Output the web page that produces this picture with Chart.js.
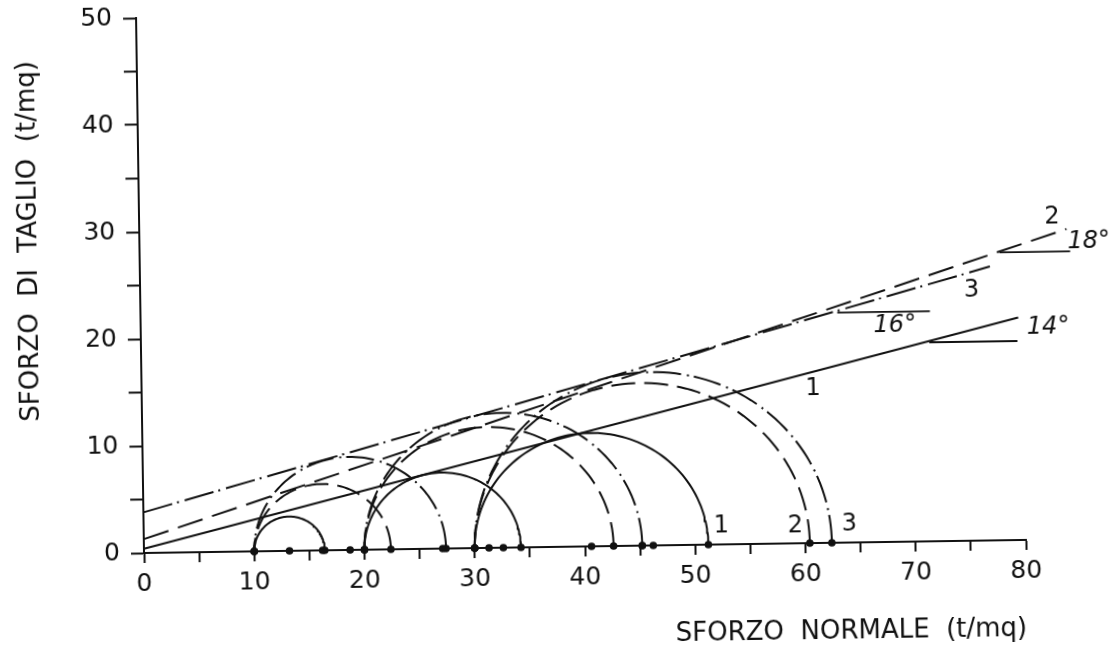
<!DOCTYPE html>
<html>
<head>
<meta charset="utf-8">
<script src="https://cdn.jsdelivr.net/npm/chart.js@4.4.1/dist/chart.umd.min.js"></script>
<style>
html, body { margin: 0; padding: 0; background: #ffffff; overflow: hidden; }
#wrap { width: 1115px; height: 655px; position: relative; }
#c { display: block; transform-origin: 144px 553px; transform: rotate(-0.85deg); }
</style>
</head>
<body>
<div id="wrap"><canvas id="c" width="1115" height="655"></canvas></div>
<script>
// ---- data (t/mq) ----
const sigma3 = [10, 20, 30];                 // minor principal stress of each test
const sigma1Test1 = [16.4, 34.2, 51.2];      // major principal stress, series 1 (solid)
const sigma1Test2 = [22.4, 42.6, 60.4];      // series 2 (dashed)
const sigma1Test3 = [27.4, 45.2, 62.4];      // series 3 (dash-dot)

const env1X = [0, 79.6], env1Y = [0.4, 20.8];   // envelope 1 (14°)
const env2X = [0, 84.1], env2Y = [1.3, 29.0];   // envelope 2 (18°)
const env3X = [0, 77.1], env3Y = [3.8, 25.6];   // envelope 3 (16°)

const ref14X = [71.5, 79.5], ref14Y = [18.6, 18.6];
const ref16X = [63.2, 71.6], ref16Y = [21.5, 21.5];
const ref18X = [78.0, 84.4], ref18Y = [26.9, 26.9];

const xTickValues = [0, 10, 20, 30, 40, 50, 60, 70, 80];
const yTickValues = [0, 10, 20, 30, 40, 50];

const xTitle = 'SFORZO  NORMALE  (t/mq)';
const yTitle = 'SFORZO  DI  TAGLIO  (t/mq)';
const lineTexts = ['1', '2', '3', '14°', '16°', '18°', '1', '2', '3'];

// ---- placement of the text annotations (layout, not data) ----
const textPlacement = [
  { x: 60.9, y: 14.4, italic: false },
  { x: 82.8, y: 30.1, italic: false },
  { x: 75.4, y: 23.4, italic: false },
  { x: 82.3, y: 19.8, italic: true },
  { x: 68.4, y: 20.2, italic: true },
  { x: 86.1, y: 27.8, italic: true },
  { x: 52.4, y: 1.7, italic: false },
  { x: 59.1, y: 1.6, italic: false },
  { x: 64.0, y: 1.7, italic: false }
];

const INK = '#111111';
const FONT = 'DejaVu Sans';

function mohrArc(s3, s1) {
  const c = (s3 + s1) / 2, r = (s1 - s3) / 2, pts = [];
  for (let a = 0; a <= 180; a += 2) {
    const t = a * Math.PI / 180;
    pts.push({ x: c + r * Math.cos(t), y: r * Math.sin(t) });
  }
  return pts;
}
function pairs(xs, ys) { return xs.map((x, i) => ({ x: x, y: ys[i] })); }

const series = [
  { s1: sigma1Test1, dash: [] },
  { s1: sigma1Test2, dash: [24, 9] },
  { s1: sigma1Test3, dash: [28, 5, 2, 6] }
];

const datasets = [];
const dots = [];
series.forEach((s, k) => {
  sigma3.forEach((s3, j) => {
    const s1 = s.s1[j];
    datasets.push({
      label: 'circle ' + (k + 1) + '-' + (j + 1),
      data: mohrArc(s3, s1),
      showLine: true, borderColor: INK, borderWidth: 2, borderDash: s.dash,
      pointRadius: 0, tension: 0, fill: false
    });
    dots.push({ x: s3, y: 0 }, { x: (s3 + s1) / 2, y: 0 }, { x: s1, y: 0 });
  });
});
[[env1X, env1Y, []], [env2X, env2Y, [26, 10]], [env3X, env3Y, [30, 5, 2, 6]]].forEach((e, i) => {
  datasets.push({
    label: 'envelope ' + (i + 1), data: pairs(e[0], e[1]),
    showLine: true, borderColor: INK, borderWidth: 2, borderDash: e[2],
    pointRadius: 0, clip: false
  });
});
[[ref14X, ref14Y], [ref16X, ref16Y], [ref18X, ref18Y]].forEach((e, i) => {
  datasets.push({
    label: 'angle ref ' + (i + 1), data: pairs(e[0], e[1]),
    showLine: true, borderColor: INK, borderWidth: 1.8,
    pointRadius: 0, clip: false
  });
});
datasets.push({
  label: 'stress points', data: dots, showLine: false,
  pointRadius: 3.8, pointBackgroundColor: INK, pointBorderColor: INK, pointBorderWidth: 0, clip: false
});

const textPlugin = {
  id: 'texts',
  afterDatasetsDraw(chart) {
    const ctx = chart.ctx, xs = chart.scales.x, ys = chart.scales.y;
    ctx.save();
    ctx.fillStyle = INK;
    ctx.textAlign = 'center';
    ctx.textBaseline = 'middle';
    lineTexts.forEach((t, i) => {
      const p = textPlacement[i];
      ctx.font = (p.italic ? 'italic ' : '') + '24px "' + FONT + '"';
      ctx.fillText(t, xs.getPixelForValue(p.x), ys.getPixelForValue(p.y));
    });
    ctx.restore();
  }
};

Chart.defaults.font.family = FONT;
Chart.defaults.color = INK;

new Chart(document.getElementById('c'), {
  type: 'scatter',
  data: { datasets: datasets },
  options: {
    responsive: false,
    animation: false,
    devicePixelRatio: 1,
    layout: { padding: { top: 18, right: 89, left: 0, bottom: 0 } },
    plugins: { legend: { display: false }, tooltip: { enabled: false } },
    scales: {
      x: {
        type: 'linear', min: 0, max: 80,
        ticks: {
          stepSize: 5, autoSkip: false, maxRotation: 0, padding: 6,
          font: { size: 25 }, color: INK,
          callback: v => (xTickValues.includes(v) ? String(v) : '')
        },
        grid: { drawOnChartArea: false, drawTicks: true, tickLength: 10, tickColor: INK, tickWidth: 2 },
        border: { color: INK, width: 2 },
        title: { display: true, text: xTitle, align: 'end', color: INK,
                 font: { size: 26, lineHeight: 1 }, padding: { top: 0, bottom: 0 } },
        afterFit: s => { s.height = 102; s.paddingLeft = 0; s.paddingRight = 0; }
      },
      y: {
        type: 'linear', min: 0, max: 50,
        ticks: {
          stepSize: 5, autoSkip: false, padding: 11,
          font: { size: 25 }, color: INK,
          callback: v => (yTickValues.includes(v) ? String(v) : '')
        },
        grid: { drawOnChartArea: false, drawTicks: true, tickLength: 13, tickColor: INK, tickWidth: 2 },
        border: { color: INK, width: 2 },
        title: { display: true, text: yTitle + '     ', align: 'end', color: INK,
                 font: { size: 26, lineHeight: 1 }, padding: { top: 21, bottom: 0 } },
        afterFit: s => { s.width = 144; s.paddingTop = 0; s.paddingBottom = 0; }
      }
    }
  },
  plugins: [textPlugin]
});
</script>
</body>
</html>
